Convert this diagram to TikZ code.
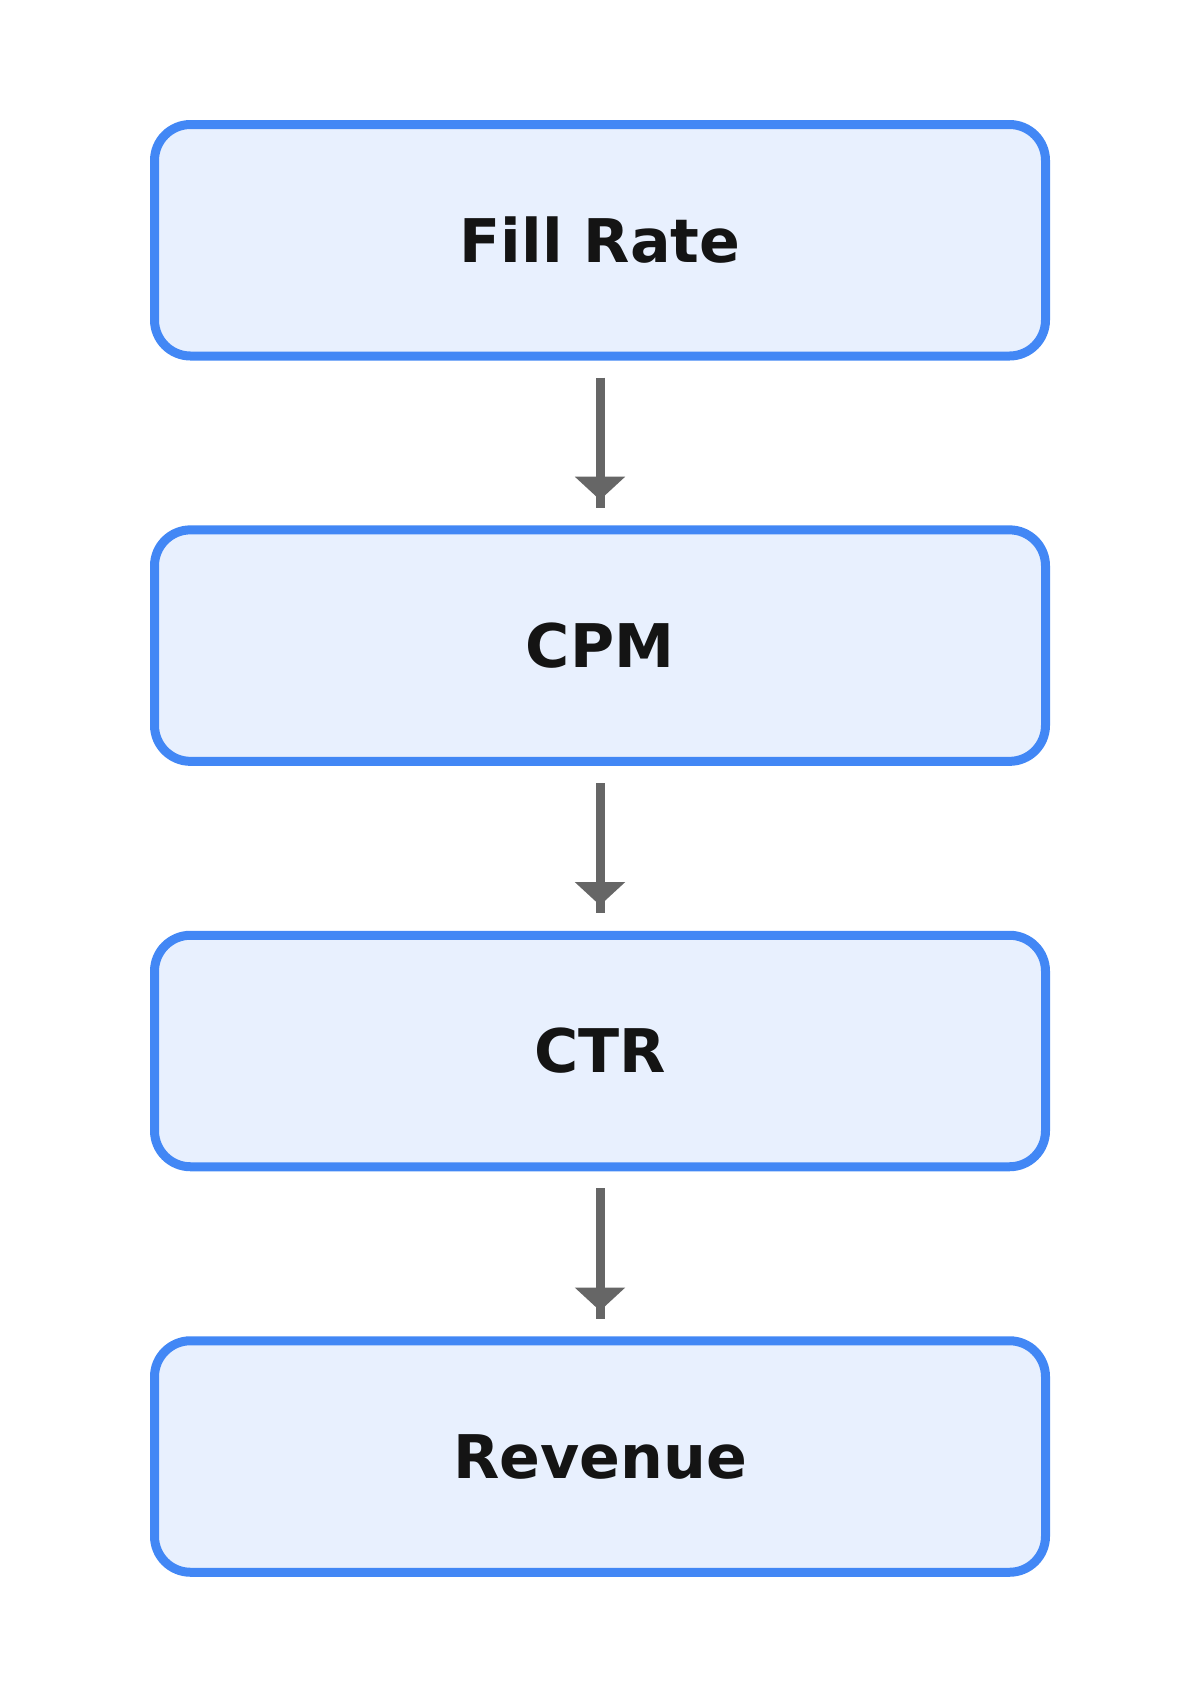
\documentclass[tikz,border=0pt]{standalone}
\usepackage{fontspec}
\setmainfont{DejaVu Sans}
\usetikzlibrary{arrows.meta}
\definecolor{boxline}{HTML}{4287F5}
\definecolor{boxfill}{HTML}{E8F0FE}
\definecolor{txt}{HTML}{141414}
\definecolor{arr}{HTML}{666666}
\tikzset{
  box/.style={draw=boxline, fill=boxfill, line width=9pt, rounded corners=36pt,
    minimum width=891pt, minimum height=231.5pt, outer sep=0pt, inner sep=0pt},
  lbl/.style={text=txt, font=\fontsize{60.2}{61}\selectfont\bfseries, anchor=base, inner sep=0pt},
  shaft/.style={draw=arr, line width=9pt, shorten <=21.7pt, shorten >=22.2pt},
  head/.style={draw=arr, fill=arr, line width=9pt, shorten <=100pt, shorten >=29.85pt,
    -{Triangle[length=23.3pt,width=49pt]}}
}
\begin{document}
\begin{tikzpicture}[x=1pt,y=-1pt]
\useasboundingbox (0,0) rectangle (1200,1695);
\node[box] (b1) at (600,240.25) {};
\node[box] (b2) at (600,645.6) {};
\node[box] (b3) at (600,1051) {};
\node[box] (b4) at (600,1456.5) {};
\node[lbl] (t1) at (600,262.1) {Fill Rate};
\node[lbl] (t2) at (600,667.5) {CPM};
\node[lbl] (t3) at (600,1072.9) {CTR};
\node[lbl] (t4) at (600,1478.4) {Revenue};
\draw[shaft] (b1.south) -- (b2.north);
\draw[shaft] (b2.south) -- (b3.north);
\draw[shaft] (b3.south) -- (b4.north);
\draw[head] (b1.south) -- (b2.north);
\draw[head] (b2.south) -- (b3.north);
\draw[head] (b3.south) -- (b4.north);
\end{tikzpicture}
\end{document}
